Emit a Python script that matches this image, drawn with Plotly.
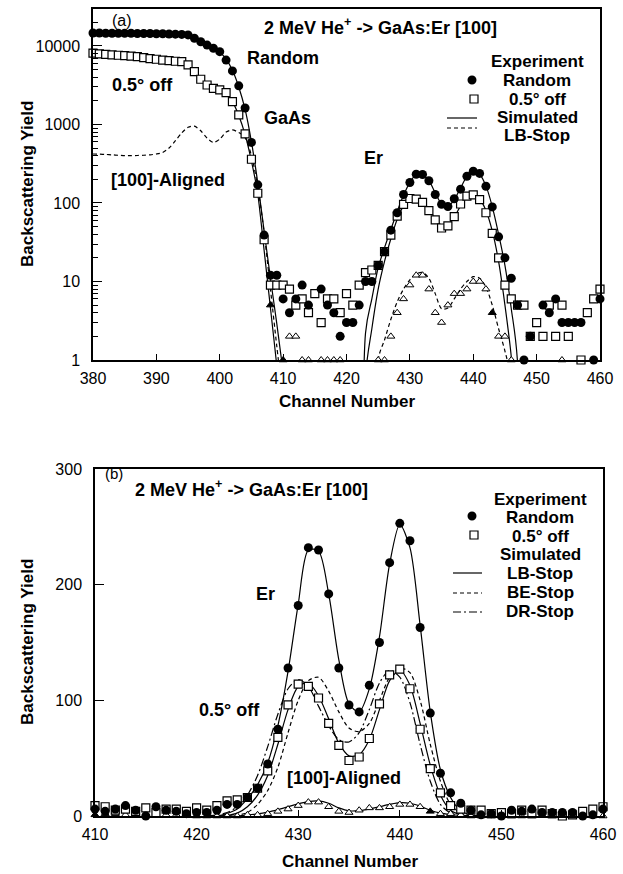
import plotly.graph_objects as go

# ---------------- data ----------------
channels = list(range(380, 461))

random_exp = [14600, 14600, 14500, 14500, 14500, 14500, 14500, 14400, 14400, 14400,
              14300, 14300, 14200, 14100, 14000, 13800, 12500, 11300, 10250, 9350,
              8450, 6600, 4800, 3100, 1620, 590, 170, 39, 12, 12,
              6, 4, 6, 9, 5, 0, 8, 5, 4, 2,
              3, 3, 5, 10, 10, 16, 24, 45, 75, 128,
              182, 232, 230, 192, 128, 96, 90, 113, 150, 219,
              253, 238, 163, 89, 37, 20, 11, 5, 1, 2,
              0, 5, 4, 6, 3, 3, 3, 3, 0, 1, 6]

off_exp = [8070, 7900, 7800, 7680, 7600, 7500, 7430, 7300, 7100, 6900,
           6760, 6600, 6480, 6380, 6300, 5730, 4700, 3760, 3180, 2880,
           2750, 2540, 1950, 1320, 760, 360, 133, 34, 9, 9,
           9, 8, 5, 6, 4, 7, 3, 6, 6, 4,
           7, 5, 9, 13, 14, 16, 24, 39, 68, 96,
           114, 112, 102, 80, 61, 48, 51, 67, 97, 122,
           127, 110, 75, 41, 20, 9, 6, 5, 5, 2,
           3, 2, 5, 2, 5, 2, 0, 1, 4, 6, 8]

aligned_ch = list(range(408, 461))
aligned_exp = [5, 0, 1, 2, 2, 1, 1, 0, 1, 1, 1, 1, 0, 0, 0, 0, 0,
               1, 1, 2, 4, 6, 9, 12, 12, 8, 4, 3, 5, 7, 7, 8, 10, 10, 8, 4, 2, 2, 1,
               0, 0, 0, 0, 0, 0, 0, 1, 0, 0, 0, 0, 0, 0]
aligned_filled = [408, 410, 443]

# simulated spectra, GaAs edge (panel a)
sim_gaas_ch = list(range(380, 411))
sim_gaas_random = [14600, 14600, 14500, 14500, 14500, 14500, 14500, 14400, 14400, 14400,
                   14300, 14300, 14200, 14100, 14200, 13600, 12600, 11400, 10300, 9300,
                   8300, 6800, 4900, 3000, 1550, 600, 180, 44, 11, 2.9, 0.7]
sim_gaas_off = [8000, 7900, 7800, 7700, 7600, 7500, 7400, 7300, 7100, 6900,
                6750, 6600, 6480, 6380, 6200, 5700, 4800, 3800, 3200, 2900,
                2750, 2500, 1950, 1300, 740, 340, 130, 25, 4.6, 0.85, 0.15]
sim_gaas_aligned = [420, 418, 415, 410, 405, 400, 400, 402, 405, 410,
                    420, 440, 500, 620, 780, 920, 950, 830, 670, 590,
                    650, 800, 850, 790, 680, 400, 160, 42, 8, 1.5, 0.3]

# simulated spectra, Er peak (both panels)
sim_er_ch = list(range(421, 449))
sim_er_random = [0, 0, 2.2, 6, 15, 27, 46, 78, 125, 183, 230, 229, 192, 135, 97, 90,
                 110, 155, 218, 252, 232, 165, 90, 40, 16, 4.5, 0.9, 0]
sim_er_off_lb = [0, 0, 0.6, 2.5, 8, 18, 35, 62, 92, 112, 115, 104, 84, 63, 52, 53,
                 66, 92, 117, 126, 113, 80, 44, 18, 5, 1.1, 0.1, 0]
sim_er_off_be = [0, 0, 0.1, 0.6, 3, 10, 22, 42, 72, 100, 117, 120, 108, 90, 76, 73,
                 80, 100, 120, 128, 124, 100, 62, 30, 10, 2.5, 0.3, 0]
sim_er_off_dr = [0, 1, 3, 8, 18, 35, 60, 88, 110, 118, 112, 95, 78, 66, 64, 72,
                 92, 115, 126, 120, 98, 62, 30, 10, 2.5, 0.3, 0, 0]
sim_er_aligned = [0, 0, 0, 0, 1.0, 1.8, 3.3, 5.5, 8, 10.5, 12.5, 13, 11, 7, 4.5, 4.6,
                  6, 8, 10, 11.5, 11, 8.5, 5, 2.5, 1.3, 0.5, 0, 0]

log_ticks = [1, 10, 100, 1000, 10000]
log_ticktext = ["1", "10", "100", "1000", "10000"]
top_xticks = list(range(380, 461, 10))
bot_xticks = list(range(410, 461, 10))
bot_yticks = [0, 100, 200, 300]

# ---------------- figure ----------------
W, H = 623, 874
def px(x):
    return x / W
def py(y):
    return 1 - y / H

TXT = "Liberation Sans, Arial, Helvetica, sans-serif"
TICKF = "Liberation Sans Narrow, Arial Narrow, Liberation Sans, Arial, sans-serif"
LW = 1.2

fig = go.Figure()

def sel(xs, ys, lo, hi):
    pts = [(a, b) for a, b in zip(xs, ys) if lo <= a <= hi]
    return [p[0] for p in pts], [p[1] for p in pts]

def add_panel(xa, ya, lo, hi, logy):
    # simulated lines
    if logy:
        x, y = sel(sim_gaas_ch, sim_gaas_random, lo, hi)
        fig.add_trace(go.Scatter(x=x, y=y, xaxis=xa, yaxis=ya, mode="lines", line=dict(color="black", width=LW, shape="spline", smoothing=0.6), showlegend=False))
        x, y = sel(sim_gaas_ch, sim_gaas_off, lo, hi)
        fig.add_trace(go.Scatter(x=x, y=y, xaxis=xa, yaxis=ya, mode="lines", line=dict(color="black", width=LW, shape="spline", smoothing=0.6), showlegend=False))
        x, y = sel(sim_gaas_ch, sim_gaas_aligned, lo, hi)
        fig.add_trace(go.Scatter(x=x, y=y, xaxis=xa, yaxis=ya, mode="lines", line=dict(color="black", width=LW, dash="4px,3px", shape="spline", smoothing=0.8), showlegend=False))
    fig.add_trace(go.Scatter(x=sim_er_ch, y=sim_er_random, xaxis=xa, yaxis=ya, mode="lines", line=dict(color="black", width=LW, shape="spline", smoothing=0.8), showlegend=False))
    fig.add_trace(go.Scatter(x=sim_er_ch, y=sim_er_off_lb, xaxis=xa, yaxis=ya, mode="lines", line=dict(color="black", width=LW, shape="spline", smoothing=0.8), showlegend=False))
    if not logy:
        fig.add_trace(go.Scatter(x=sim_er_ch, y=sim_er_off_be, xaxis=xa, yaxis=ya, mode="lines", line=dict(color="black", width=LW, dash="4px,3px", shape="spline", smoothing=0.8), showlegend=False))
        fig.add_trace(go.Scatter(x=sim_er_ch, y=sim_er_off_dr, xaxis=xa, yaxis=ya, mode="lines", line=dict(color="black", width=LW, dash="8px,3px,2px,3px", shape="spline", smoothing=0.8), showlegend=False))
    fig.add_trace(go.Scatter(x=sim_er_ch, y=sim_er_aligned, xaxis=xa, yaxis=ya, mode="lines",
                             line=dict(color="black", width=LW, dash="4px,3px" if logy else "solid", shape="spline", smoothing=0.8), showlegend=False))
    # experiment markers
    x, y = sel(aligned_ch, aligned_exp, lo, hi)
    fills = ["black" if c in aligned_filled else "white" for c in x]
    fig.add_trace(go.Scatter(x=x, y=y, xaxis=xa, yaxis=ya, mode="markers", cliponaxis=False,
                             marker=dict(symbol="triangle-up", size=7, color=fills, line=dict(color="black", width=1)), showlegend=False))
    x, y = sel(channels, off_exp, lo, hi)
    fig.add_trace(go.Scatter(x=x, y=y, xaxis=xa, yaxis=ya, mode="markers", cliponaxis=False,
                             marker=dict(symbol="square", size=8, color="white", line=dict(color="black", width=1.2)), showlegend=False))
    x, y = sel(channels, random_exp, lo, hi)
    fig.add_trace(go.Scatter(x=x, y=y, xaxis=xa, yaxis=ya, mode="markers", cliponaxis=False,
                             marker=dict(symbol="circle", size=9, color="black", line=dict(width=0)), showlegend=False))

add_panel("x", "y", 380, 460, True)
add_panel("x2", "y2", 410, 460, False)

axis_common = dict(showline=True, linecolor="black", linewidth=1.5, mirror=True, ticks="inside",
                   tickcolor="black", tickwidth=1.2, showgrid=False, zeroline=False,
                   tickfont=dict(family=TICKF, size=16, color="black"), automargin=False)

fig.update_layout(
    width=W, height=H, margin=dict(l=0, r=0, t=0, b=0),
    paper_bgcolor="white", plot_bgcolor="white", showlegend=False,
    xaxis=dict(domain=[px(93), px(600)], range=[380, 460], tickmode="array", tickvals=top_xticks,
               ticklen=6, anchor="y", ticklabelstandoff=3, **axis_common),
    yaxis=dict(domain=[py(360), py(9)], type="log", range=[0, 4.47], tickmode="array",
               tickvals=log_ticks, ticktext=log_ticktext, ticklen=9, anchor="x", ticklabelstandoff=8,
               minor=dict(ticks="inside", ticklen=5, dtick="D1", tickcolor="black", showgrid=False),
               **axis_common),
    xaxis2=dict(domain=[px(95), px(603)], range=[410, 460], tickmode="array", tickvals=bot_xticks,
                ticklen=6, anchor="y2", ticklabelstandoff=3, **axis_common),
    yaxis2=dict(domain=[py(816), py(469)], range=[0, 300], tickmode="array", tickvals=bot_yticks,
                ticklen=9, anchor="x2", ticklabelstandoff=8, **axis_common),
)

def txt(s, x, y, size=18, bold=True, xanchor="left"):
    fig.add_annotation(text=s, x=px(x), y=py(y), xref="paper", yref="paper", showarrow=False,
                       xanchor=xanchor, yanchor="middle",
                       font=dict(family=TXT, size=size, color="black", weight="bold" if bold else "normal"))

# panel (a) texts
txt("(a)", 110, 21, size=16, bold=False)
txt("2 MeV He<sup>+</sup> -> GaAs:Er [100]", 262, 26)
txt("Random", 245, 58)
txt("0.5° off", 110, 85)
txt("GaAs", 262, 118)
txt("[100]-Aligned", 109, 180)
txt("Er", 362, 158)
for s, y in [("Experiment", 61), ("Random", 80), ("0.5° off", 99), ("Simulated", 117), ("LB-Stop", 135)]:
    txt(s, 537, y, size=17, xanchor="center")

# panel (b) texts
txt("(b)", 103, 473, size=15, bold=False)
txt("2 MeV He<sup>+</sup> -> GaAs:Er [100]", 133, 488)
txt("Er", 254, 594)
txt("0.5° off", 197, 710)
txt("[100]-Aligned", 285, 778)
for s, y in [("Experiment", 499), ("Random", 517), ("0.5° off", 536), ("Simulated", 554),
             ("LB-Stop", 573), ("BE-Stop", 592), ("DR-Stop", 611)]:
    txt(s, 540, y, size=17, xanchor="center")

# axis titles
for yc in [184, 642]:
    fig.add_annotation(text="Backscattering Yield", x=px(27), y=py(yc), xref="paper", yref="paper",
                       showarrow=False, textangle=-90, xanchor="center", yanchor="middle",
                       font=dict(family=TXT, size=17, color="black", weight="bold"))
for yc, xc in [(401, 347), (861, 350)]:
    fig.add_annotation(text="Channel Number", x=px(xc), y=py(yc), xref="paper", yref="paper",
                       showarrow=False, xanchor="center", yanchor="middle",
                       font=dict(family=TXT, size=17, color="black", weight="bold"))

# legend swatches
shapes = []
def dot(x, y, r=4.5):
    shapes.append(dict(type="circle", xref="paper", yref="paper", x0=px(x - r), x1=px(x + r),
                       y0=py(y + r), y1=py(y - r), fillcolor="black", line=dict(width=0)))
def box(x, y, r=4):
    shapes.append(dict(type="rect", xref="paper", yref="paper", x0=px(x - r), x1=px(x + r),
                       y0=py(y + r), y1=py(y - r), fillcolor="white", line=dict(color="black", width=1.2)))
def seg(x0, x1, y, dash="solid"):
    shapes.append(dict(type="line", xref="paper", yref="paper", x0=px(x0), x1=px(x1),
                       y0=py(y), y1=py(y), line=dict(color="black", width=LW, dash=dash)))

dot(472, 80); box(474, 99); seg(447, 477, 118); seg(447, 477, 128, "4px,3px")
dot(472, 516); box(474, 535); seg(453, 482, 573); seg(453, 482, 593, "4px,3px"); seg(453, 482, 612, "8px,3px,2px,3px")
fig.update_layout(shapes=shapes)

fig.write_html("out.html")
